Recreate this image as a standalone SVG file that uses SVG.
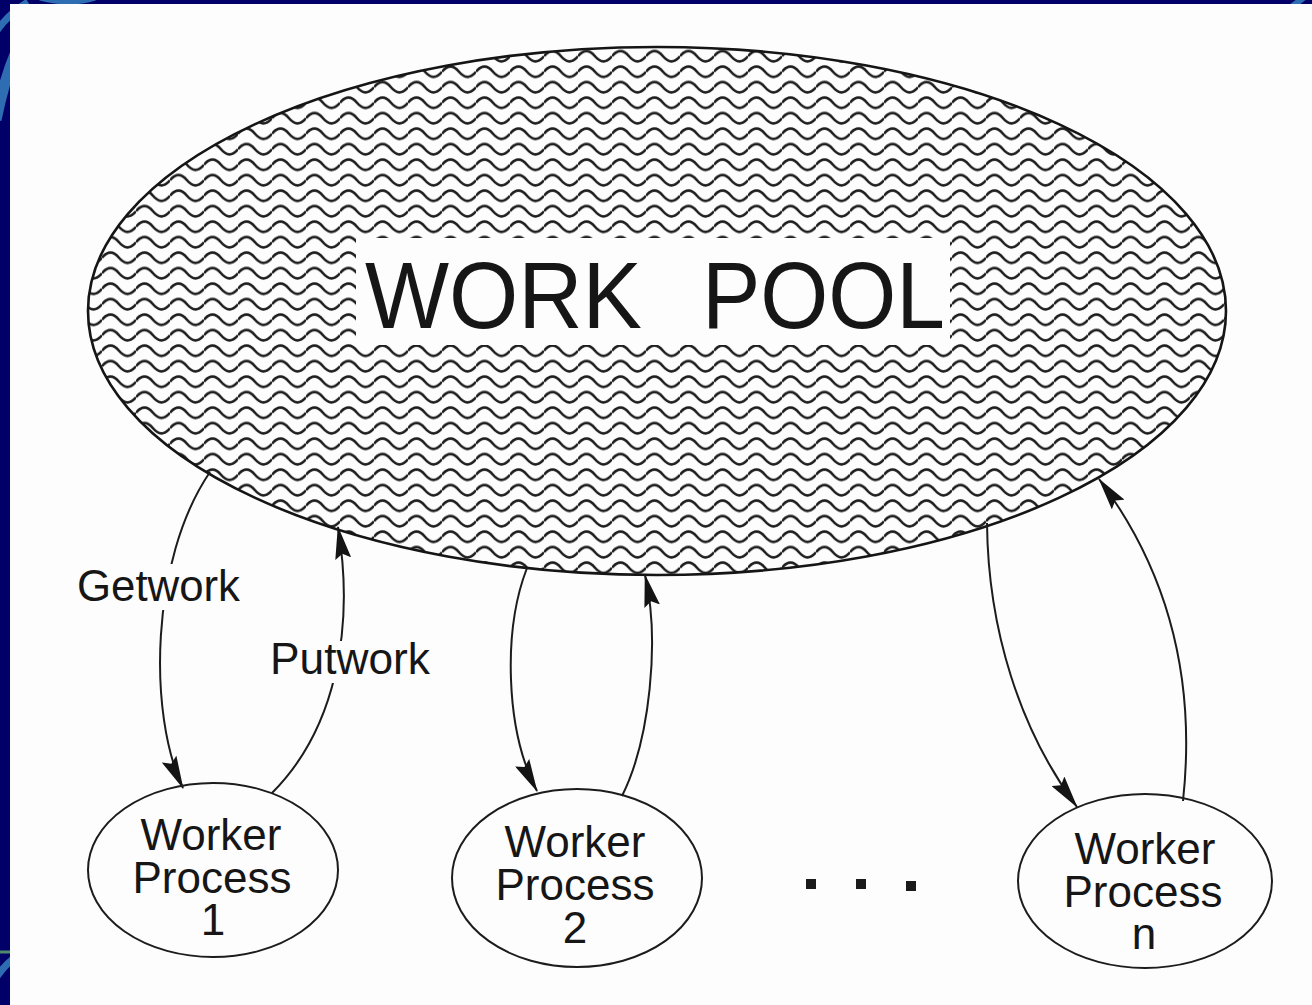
<svg xmlns="http://www.w3.org/2000/svg" width="1312" height="1005" viewBox="0 0 1312 1005">
  <style>
    .txt { font-family: "Liberation Sans", Arial, sans-serif; fill: #161616; }
    .node { fill: none; stroke: #1c1c1c; stroke-width: 2; }
    .conn { fill: none; stroke: #1c1c1c; stroke-width: 2; }
    .deco { fill: none; stroke: #2f6db3; stroke-linecap: butt; }
  </style>
  <defs>
    <pattern id="wave" x="0" y="2" width="34" height="15.5" patternUnits="userSpaceOnUse">
      <path d="M0,7.75 Q8.5,-2.5 17,7.75 T34,7.75" fill="none" stroke="#1e1e1e" stroke-width="2.6"/>
    </pattern>
    <marker id="arrow" markerUnits="userSpaceOnUse" markerWidth="33" markerHeight="16" viewBox="0 0 33 16" refX="32" refY="8" orient="auto">
      <path d="M0,0 L33,8 L0,16 L5,8 Z" fill="#141414"/>
    </marker>
  </defs>

  <!-- slide background -->
  <rect x="0" y="0" width="1312" height="1005" fill="#000068"/>
  <g id="background-decoration">
    <path class="deco" d="M-4,120 Q4,80 16,52" stroke-width="11"/>
    <path class="deco" d="M-4,32 Q8,14 28,2" stroke-width="7"/>
    <path class="deco" d="M40,-2 Q70,6 95,-2" stroke-width="5"/>
    <path class="deco" d="M1290,8 L1306,-4" stroke-width="6"/>
    <line x1="0" y1="952" x2="12" y2="952" stroke="#4f8a6a" stroke-width="3"/>
    <path class="deco" d="M-4,978 Q4,966 14,958" stroke-width="7"/>
  </g>
  <!-- scanned page -->
  <rect x="10" y="4" width="1302" height="1001" fill="#fdfdfd"/>

  <g id="work-pool">
    <ellipse cx="657" cy="311" rx="569" ry="264" fill="url(#wave)" stroke="#151515" stroke-width="2.6"/>
    <rect x="356" y="238" width="594" height="107" fill="#fdfdfd"/>
    <text class="txt" y="328" font-size="95"><tspan x="365" textLength="277" lengthAdjust="spacingAndGlyphs">WORK</tspan><tspan x="702" textLength="243" lengthAdjust="spacingAndGlyphs">POOL</tspan></text>
  </g>

  <g id="connectors">
    <!-- worker 1 -->
    <path class="conn" d="M210,472 C150,560 148,715 183,788" marker-end="url(#arrow)"/>
    <path class="conn" d="M272,793 C335,730 355,630 338,527" marker-end="url(#arrow)"/>
    <!-- worker 2 -->
    <path class="conn" d="M527,568 C503,630 505,730 537,791" marker-end="url(#arrow)"/>
    <path class="conn" d="M622,796 C650,740 660,640 645,575" marker-end="url(#arrow)"/>
    <!-- worker n -->
    <path class="conn" d="M987,523 C988,630 1020,730 1077,807" marker-end="url(#arrow)"/>
    <path class="conn" d="M1183,801 C1195,690 1175,580 1099,479" marker-end="url(#arrow)"/>
  </g>

  <g id="labels">
    <rect x="72" y="564" width="172" height="46" fill="#fdfdfd"/>
    <text class="txt" x="77" y="601" font-size="44" textLength="163" lengthAdjust="spacingAndGlyphs">Getwork</text>
    <rect x="265" y="641" width="170" height="42" fill="#fdfdfd"/>
    <text class="txt" x="270" y="674" font-size="44" textLength="160" lengthAdjust="spacingAndGlyphs">Putwork</text>
  </g>

  <g id="worker-1">
    <ellipse class="node" cx="213" cy="870" rx="125" ry="87"/>
    <text class="txt" font-size="44" text-anchor="middle"><tspan x="211" y="850">Worker</tspan><tspan x="212" y="893">Process</tspan><tspan x="213" y="935">1</tspan></text>
  </g>

  <g id="worker-2">
    <ellipse class="node" cx="577" cy="878" rx="125" ry="89"/>
    <text class="txt" font-size="44" text-anchor="middle"><tspan x="575" y="857">Worker</tspan><tspan x="575" y="900">Process</tspan><tspan x="575" y="943">2</tspan></text>
  </g>

  <g id="ellipsis">
    <rect x="806" y="879" width="10" height="10" fill="#1a1a1a"/>
    <rect x="856" y="879" width="10" height="10" fill="#1a1a1a"/>
    <rect x="906" y="881" width="10" height="10" fill="#1a1a1a"/>
  </g>

  <g id="worker-n">
    <ellipse class="node" cx="1145" cy="881" rx="127" ry="87"/>
    <text class="txt" font-size="44" text-anchor="middle"><tspan x="1145" y="864">Worker</tspan><tspan x="1143" y="907">Process</tspan><tspan x="1144" y="949">n</tspan></text>
  </g>
</svg>
